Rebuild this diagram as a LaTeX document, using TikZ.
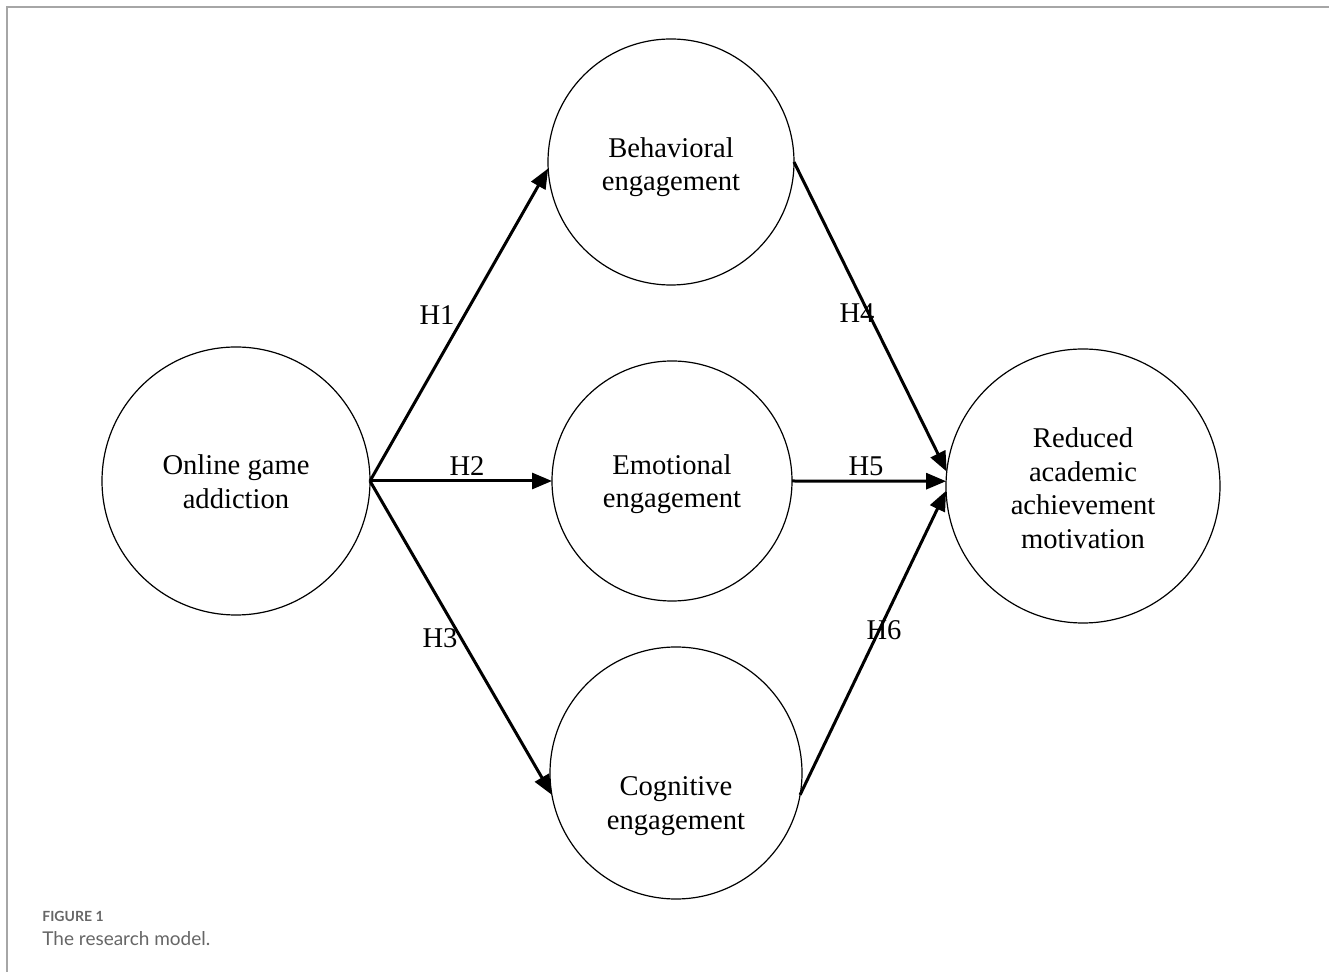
\documentclass[tikz,border=0pt]{standalone}
\usepackage{fontspec}
\setmainfont{Liberation Serif}
\newfontfamily\capfont{Lato}
\usetikzlibrary{arrows.meta}
\newcommand{\lvtext}[2]{\raisebox{#1}[0pt][0pt]{\begin{tabular}{@{}c@{}}#2\end{tabular}}}
\begin{document}
\begin{tikzpicture}[x=0.5pt,y=-0.5pt,
  latent/.style={circle,draw,line width=0.6pt,inner sep=0pt,outer sep=0pt,align=center,
    font=\fontsize{14.3}{16.9}\selectfont},
  pathar/.style={line width=1.5pt,-{Triangle[length=10pt,width=8pt]}},
  hlab/.style={font=\fontsize{14.3}{16.9}\selectfont,inner sep=0pt},
  frameline/.style={draw=black!35,line width=1pt},
  captxt/.style={anchor=west,inner sep=0pt,text=black!60}]
\useasboundingbox (0,0) rectangle (1329,972);
\coordinate (fbl) at (7,972);
\coordinate (ftl) at (7,7);
\coordinate (ftr) at (1329,7);
\draw[frameline] (fbl) -- (ftl) -- (ftr);

\node[latent,minimum size=134pt] (oga) at (236,481) {\lvtext{-5.5pt}{Online game\\addiction}};
\node[latent,minimum size=123pt] (beh) at (671,162) {\lvtext{-6.25pt}{Behavioral\\engagement}};
\node[latent,minimum size=120pt] (emo) at (672,481) {\lvtext{-5.25pt}{Emotional\\engagement}};
\node[latent,minimum size=126pt] (cog) at (676,773) {\lvtext{-20pt}{Cognitive\\engagement}};
\node[latent,minimum size=137pt] (red) at (1083,486) {\lvtext{-6.25pt}{Reduced\\academic\\achievement\\motivation}};

\draw[pathar] (oga.east) -- (beh.183);
\draw[pathar] (oga.east) -- (emo.west);
\draw[pathar] (oga.east) -- (cog.190);
\draw[pathar] (beh.east) -- (red.174);
\draw[pathar] (emo.east) -- (red.178);
\draw[pathar] (cog.350) -- (red.182);

\node[hlab] (h1) at (437,315) {H1};
\node[hlab] (h2) at (467,466) {H2};
\node[hlab] (h3) at (440,638) {H3};
\node[hlab] (h4) at (857,313) {H4};
\node[hlab] (h5) at (866,466) {H5};
\node[hlab] (h6) at (884,630) {H6};

\node[captxt,font=\capfont\bfseries\fontsize{7}{8}\selectfont] (fig) at (42,916) {FIGURE 1};
\node[captxt,font=\capfont\fontsize{9.5}{11}\selectfont] (cap) at (42,939) {The research model.};
\end{tikzpicture}
\end{document}
